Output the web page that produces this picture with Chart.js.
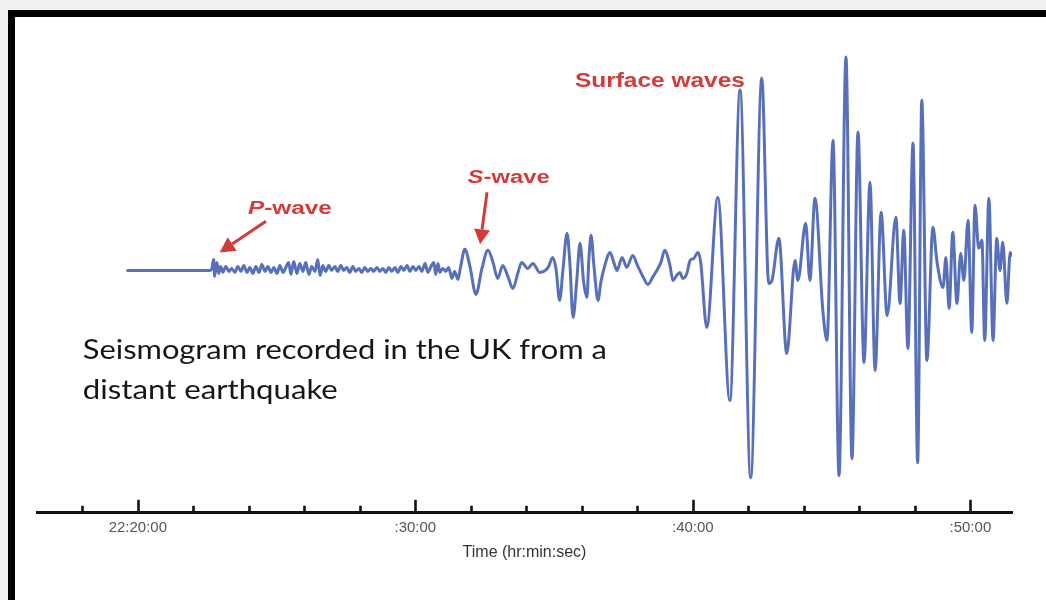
<!DOCTYPE html>
<html>
<head>
<meta charset="utf-8">
<script src="https://cdn.jsdelivr.net/npm/chart.js@4.4.1/dist/chart.umd.min.js"></script>
<style>
  html, body { margin: 0; padding: 0; width: 1046px; height: 600px; overflow: hidden; background: #eff0f2; }
  #frame { position: absolute; left: 8px; top: 10px; width: 1100px; height: 700px; border: 7px solid #000; background: #fff; }
  #wrap { position: absolute; left: 0; top: 0; width: 1046px; height: 600px; }
</style>
</head>
<body>
<div id="frame"></div>
<div id="wrap"><canvas id="seismo" width="1046" height="600"></canvas></div>
<script>
// Trace samples: seconds after 22:20:00 and ground-motion amplitude (counts)
const timeSec = [
  -22, 156, 160, 164, 166, 171, 175, 179, 184, 190, 197, 203, 210, 216, 223, 229, 236, 242, 249, 255,
  262, 268, 275, 281, 288, 294, 301, 307, 314, 320, 326, 331, 337, 344, 350, 357, 363, 370, 376, 383,
  389, 394, 400, 406, 413, 419, 426, 432, 439, 445, 452, 458, 465, 471, 478, 484, 491, 497, 504, 510,
  517, 523, 530, 536, 543, 549, 556, 562, 569, 575, 582, 588, 595, 601, 608, 614, 621, 627, 634, 640,
  644, 649, 653, 659, 666, 672, 679, 685, 692, 698, 707, 718, 731, 744, 757, 768, 778, 789, 800, 811,
  822, 830, 843, 854, 869, 887, 897, 904, 912, 919, 928, 934, 941, 949, 956, 964, 971, 975, 980, 986,
  995, 1001, 1008, 1021, 1029, 1036, 1047, 1057, 1070, 1081, 1092, 1103, 1114, 1122, 1131, 1139, 1150, 1157, 1165, 1172,
  1178, 1187, 1194, 1202, 1211, 1217, 1230, 1254, 1280, 1302, 1325, 1349, 1364, 1371, 1386, 1403, 1421, 1427, 1444, 1453,
  1464, 1481, 1490, 1503, 1516, 1531, 1544, 1557, 1570, 1583, 1594, 1607, 1620, 1639, 1648, 1656, 1665, 1676, 1686, 1695,
  1706, 1719, 1728, 1741, 1747, 1754, 1762, 1771, 1779, 1786, 1795, 1803, 1810, 1818, 1825, 1831, 1840, 1849, 1857, 1864,
  1870, 1879, 1886, 1889
];
const amplitude = [
  0, 0, 2, 11, -6, 8, -3, 4, -2, 4, -1, 2, -2, 4, -1, 5, -2, 3, -3, 4,
  -2, 6, -1, 4, -2, 3, -3, 5, -2, 3, 8, -4, 9, -3, 7, -1, 8, -4, 4, -1,
  11, -5, 5, -1, 5, 0, 4, -1, 5, 0, 3, -2, 4, -1, 2, -2, 3, -1, 2, -1,
  3, -1, 2, -2, 3, -1, 3, -2, 4, 0, 5, -1, 4, 0, 4, -1, 7, -2, 4, 8,
  -4, 7, -2, 2, -1, 3, -8, -1, -9, 4, 21, 4, -24, 2, 20, 8, -8, 5, -6, -18,
  -2, 8, 2, 7, -2, 3, 13, 2, -30, 0, 37, 8, -47, -10, 27, -12, -27, 10, 35, 5,
  -30, -12, 2, 18, 8, 0, 13, 3, 15, 4, -6, -14, -6, 0, 8, 20, 6, -10, -5, -2,
  -8, -3, 10, 12, 18, 8, -57, 73, -130, 180, -207, 192, -13, -10, 32, -83, 10, -10, 47, -10,
  72, -40, -70, 130, -205, 213, -188, 138, -92, 88, -100, 58, -45, 53, -33, 40, -78, 127, -192, 170,
  -90, 43, 8, -17, 13, -38, 38, -33, 17, -10, 50, -62, 65, 22, 30, -70, 72, -70, 32, 0,
  28, -33, 18, 15
];

// Time axis: a mark every two minutes, labelled every ten
const tickStepSec = 120;
const majorTickSec = [0, 600, 1200, 1800];
const majorTickLabels = ['22:20:00', ':30:00', ':40:00', ':50:00'];
const axisTitle = 'Time (hr:min:sec)';

// Phase arrivals picked on the trace (lead letter is set in italics)
const phaseLead = ['P', 'S', ''];
const phaseRest = ['-wave', '-wave', 'Surface waves'];

const captionLines = ['Seismogram recorded in the UK from a', 'distant earthquake'];

const traceBlue = '#5870ba';
const pickRed = '#d43a3a';

// Placement of the phase labels and arrows, in axis units (seconds, counts)
const phaseLayout = [
  { at: [238, 56], width: 84, size: 18, arrow: { from: [277, 49], to: [177, 18] } },
  { at: [713, 87], width: 82, size: 18, arrow: { from: [755, 78], to: [740, 26] } },
  { at: [945, 183], width: 170, size: 20 }
];
const captionLayout = { at: [-119, -88], lineStep: -40, widths: [524, 255], size: 26 };

function drawArrow(ctx, x1, y1, x2, y2, color) {
  const ang = Math.atan2(y2 - y1, x2 - x1);
  const headLen = 15, headHalf = 8;
  const bx = x2 - headLen * Math.cos(ang), by = y2 - headLen * Math.sin(ang);
  ctx.save();
  ctx.strokeStyle = color; ctx.fillStyle = color; ctx.lineWidth = 3; ctx.lineCap = 'butt';
  ctx.beginPath(); ctx.moveTo(x1, y1); ctx.lineTo(bx, by); ctx.stroke();
  ctx.beginPath();
  ctx.moveTo(x2, y2);
  ctx.lineTo(bx + headHalf * Math.sin(ang), by - headHalf * Math.cos(ang));
  ctx.lineTo(bx - headHalf * Math.sin(ang), by + headHalf * Math.cos(ang));
  ctx.closePath(); ctx.fill();
  ctx.restore();
}

// Draws text runs on one baseline, stretched to a given overall width
function drawRuns(ctx, runs, x, y, width, color) {
  ctx.save();
  ctx.fillStyle = color;
  ctx.textBaseline = 'alphabetic';
  ctx.textAlign = 'left';
  let total = 0;
  runs.forEach(r => { ctx.font = r.font; total += ctx.measureText(r.text).width; });
  ctx.translate(x, y);
  ctx.scale(width / total, 1);
  let cx = 0;
  runs.forEach(r => { ctx.font = r.font; ctx.fillText(r.text, cx, 0); cx += ctx.measureText(r.text).width; });
  ctx.restore();
}

const tickMarks = {
  id: 'tickMarks',
  afterDraw(chart) {
    const sx = chart.scales.x, ctx = chart.ctx;
    ctx.save();
    ctx.strokeStyle = '#111';
    ctx.lineWidth = 2.6;
    sx.ticks.forEach(t => {
      const px = Math.round(sx.getPixelForValue(t.value)) + 0.5;
      const len = majorTickSec.includes(t.value) ? 13 : 7;
      ctx.beginPath(); ctx.moveTo(px, sx.top); ctx.lineTo(px, sx.top - len); ctx.stroke();
    });
    ctx.restore();
  }
};

const phasePicks = {
  id: 'phasePicks',
  afterDatasetsDraw(chart) {
    const sx = chart.scales.x, sy = chart.scales.y, ctx = chart.ctx;
    const P = (p) => [sx.getPixelForValue(p[0]), sy.getPixelForValue(p[1])];
    phaseLayout.forEach((lay, i) => {
      const [x, y] = P(lay.at);
      const fam = '"Liberation Sans", Arial, sans-serif';
      const runs = [];
      if (phaseLead[i]) runs.push({ text: phaseLead[i], font: `italic bold ${lay.size}px ${fam}` });
      runs.push({ text: phaseRest[i], font: `bold ${lay.size}px ${fam}` });
      drawRuns(ctx, runs, x, y, lay.width, pickRed);
      if (lay.arrow) {
        const [x1, y1] = P(lay.arrow.from);
        const [x2, y2] = P(lay.arrow.to);
        drawArrow(ctx, x1, y1, x2, y2, pickRed);
      }
    });
    const [cx] = P(captionLayout.at);
    captionLines.forEach((line, i) => {
      const ly = sy.getPixelForValue(captionLayout.at[1] + i * captionLayout.lineStep);
      drawRuns(ctx, [{ text: line, font: `${captionLayout.size}px "Comic Sans MS", Lato, "Noto Sans", sans-serif` }],
        cx, ly, captionLayout.widths[i], '#161616');
    });
  }
};

new Chart(document.getElementById('seismo'), {
  type: 'line',
  data: {
    labels: timeSec,
    datasets: [{
      data: timeSec.map((t, i) => ({ x: t, y: amplitude[i] })),
      borderColor: traceBlue,
      borderWidth: 3,
      pointRadius: 0,
      fill: false,
      cubicInterpolationMode: 'monotone',
      borderJoinStyle: 'round',
      borderCapStyle: 'round'
    }]
  },
  options: {
    responsive: false,
    animation: false,
    devicePixelRatio: 1,
    layout: { padding: { left: 37, right: 34, top: 20, bottom: 38 } },
    plugins: { legend: { display: false }, tooltip: { enabled: false } },
    scales: {
      x: {
        type: 'linear',
        min: -218,
        max: 1890,
        grid: { display: false, drawTicks: false },
        border: { display: true, color: '#111', width: 3 },
        ticks: {
          stepSize: tickStepSec,
          includeBounds: false,
          autoSkip: false,
          maxRotation: 0,
          padding: 6,
          color: '#555',
          font: { family: '"Liberation Sans", Arial, sans-serif', size: 15 },
          callback: (v) => {
            const k = majorTickSec.indexOf(v);
            return k >= 0 ? majorTickLabels[k] : '';
          }
        },
        title: {
          display: true,
          text: axisTitle,
          color: '#333',
          padding: { top: 0, bottom: 0 },
          font: { family: '"Liberation Sans", Arial, sans-serif', size: 16 }
        }
      },
      y: {
        display: false,
        min: -242,
        max: 250
      }
    }
  },
  plugins: [tickMarks, phasePicks]
});
</script>
</body>
</html>
